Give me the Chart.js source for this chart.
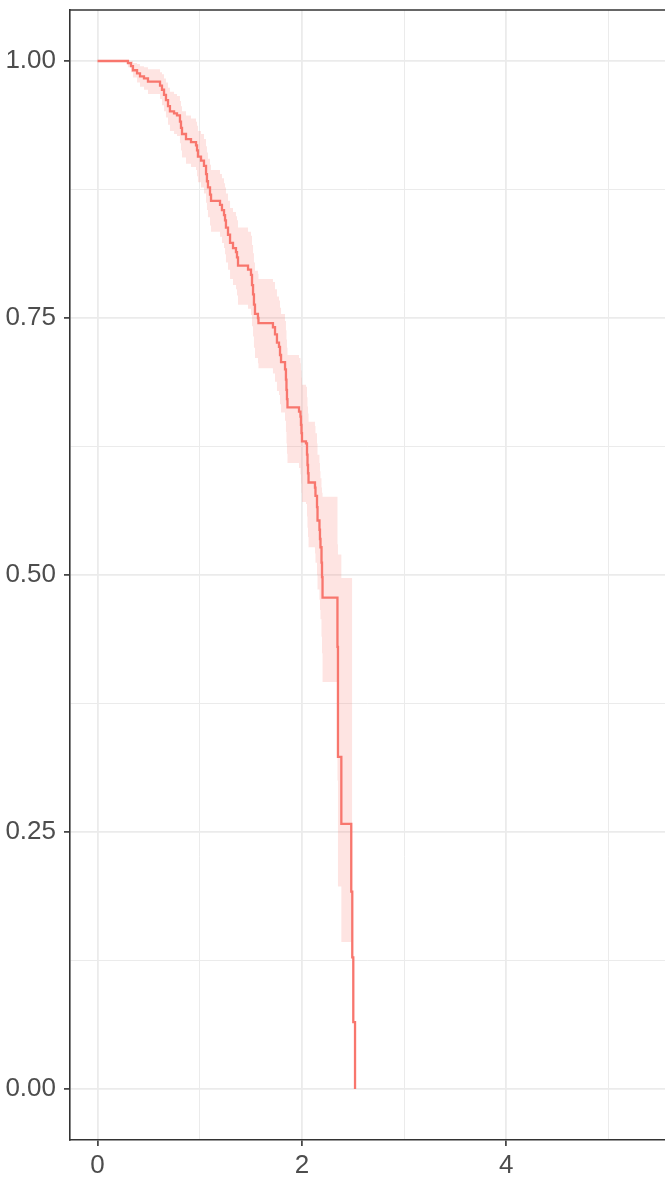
<!DOCTYPE html>
<html>
<head>
<meta charset="utf-8">
<script src="https://cdn.jsdelivr.net/npm/chart.js@4.4.0/dist/chart.umd.min.js"></script>
<style>
  html, body { margin: 0; padding: 0; background: #fff; }
  #wrap { width: 665px; height: 1178px; position: relative; }
</style>
</head>
<body>
<div id="wrap"><canvas id="km"></canvas></div>
<script>
// survival curve (time, S(t), upper / lower CI)
const times = [0, 0.298, 0.328, 0.347, 0.387, 0.416, 0.455, 0.494, 0.612, 0.631,
  0.651, 0.670, 0.690, 0.709, 0.749, 0.778, 0.807, 0.817, 0.827, 0.866,
  0.915, 0.964, 0.974, 0.983, 1.013, 1.042, 1.062, 1.071, 1.081, 1.101,
  1.111, 1.199, 1.218, 1.238, 1.248, 1.257, 1.277, 1.297, 1.326, 1.355,
  1.365, 1.375, 1.473, 1.502, 1.512, 1.522, 1.531, 1.541, 1.570, 1.575,
  1.717, 1.737, 1.756, 1.776, 1.786, 1.796, 1.835, 1.844, 1.849, 1.854,
  1.859, 1.972, 1.986, 1.991, 1.996, 2.001, 2.040, 2.050, 2.055, 2.060,
  2.065, 2.128, 2.133, 2.148, 2.153, 2.172, 2.177, 2.182, 2.192, 2.197,
  2.202, 2.348, 2.353, 2.386, 2.483, 2.493, 2.503, 2.520];

const survival = [1, 0.998, 0.995, 0.991, 0.988, 0.985, 0.983, 0.980, 0.976, 0.972,
  0.967, 0.962, 0.956, 0.951, 0.949, 0.947, 0.941, 0.935, 0.929, 0.924,
  0.921, 0.918, 0.913, 0.907, 0.903, 0.898, 0.890, 0.883, 0.877, 0.870,
  0.864, 0.860, 0.855, 0.850, 0.845, 0.838, 0.831, 0.823, 0.818, 0.814,
  0.809, 0.801, 0.797, 0.792, 0.782, 0.773, 0.763, 0.754, 0.750, 0.745,
  0.741, 0.734, 0.726, 0.722, 0.714, 0.707, 0.700, 0.690, 0.680, 0.671,
  0.663, 0.659, 0.654, 0.646, 0.638, 0.630, 0.628, 0.617, 0.607, 0.599,
  0.590, 0.585, 0.577, 0.566, 0.553, 0.544, 0.535, 0.527, 0.512, 0.498,
  0.478, 0.430, 0.323, 0.258, 0.192, 0.128, 0.065, 0];

const upperCI = [1, 1.000, 1.000, 0.998, 0.997, 0.995, 0.994, 0.992, 0.989, 0.987,
  0.983, 0.979, 0.974, 0.970, 0.968, 0.966, 0.961, 0.956, 0.951, 0.947,
  0.944, 0.941, 0.937, 0.932, 0.929, 0.924, 0.917, 0.911, 0.905, 0.899,
  0.894, 0.890, 0.886, 0.881, 0.877, 0.871, 0.864, 0.857, 0.853, 0.849,
  0.845, 0.838, 0.834, 0.830, 0.821, 0.813, 0.804, 0.796, 0.793, 0.788,
  0.785, 0.778, 0.771, 0.767, 0.760, 0.754, 0.747, 0.738, 0.729, 0.721,
  0.714, 0.711, 0.706, 0.699, 0.692, 0.685, 0.683, 0.673, 0.664, 0.657,
  0.649, 0.645, 0.638, 0.628, 0.617, 0.609, 0.601, 0.594, 0.585, 0.580,
  0.576, 0.530, 0.520, 0.497, 0.497, 0.497, null, null];

const lowerCI = [1, 0.994, 0.989, 0.984, 0.979, 0.975, 0.972, 0.968, 0.963, 0.957,
  0.951, 0.945, 0.938, 0.932, 0.929, 0.927, 0.920, 0.913, 0.906, 0.900,
  0.897, 0.894, 0.888, 0.882, 0.877, 0.871, 0.862, 0.855, 0.848, 0.840,
  0.834, 0.829, 0.823, 0.818, 0.812, 0.804, 0.797, 0.788, 0.782, 0.778,
  0.772, 0.763, 0.759, 0.753, 0.742, 0.732, 0.721, 0.711, 0.706, 0.701,
  0.696, 0.688, 0.679, 0.675, 0.666, 0.658, 0.650, 0.639, 0.628, 0.618,
  0.609, 0.604, 0.598, 0.589, 0.580, 0.571, 0.569, 0.557, 0.546, 0.537,
  0.527, 0.521, 0.512, 0.500, 0.486, 0.476, 0.466, 0.457, 0.440, 0.424,
  0.396, 0.300, 0.197, 0.143, 0.197, 0.197, null, null];

const xTicks = [0, 1, 2, 3, 4, 5];
const yTicks = [0, 0.125, 0.25, 0.375, 0.5, 0.625, 0.75, 0.875, 1];

const lineColor = '#F8766D';
const bandColor = 'rgba(248,118,109,0.2)';

function points(values) {
  return times.map((t, i) => ({ x: t, y: values[i] }));
}

function isMajor(v, step) {
  return Math.abs(v / step - Math.round(v / step)) < 1e-9;
}

const frameTop = {
  id: 'frameTop',
  afterDraw(chart) {
    const { ctx, chartArea } = chart;
    ctx.save();
    ctx.strokeStyle = '#333333';
    ctx.lineWidth = 1.6;
    ctx.beginPath();
    ctx.moveTo(chartArea.left, chartArea.top);
    ctx.lineTo(chartArea.right, chartArea.top);
    ctx.stroke();
    ctx.restore();
  }
};

const tickFont = { family: 'Liberation Sans', size: 26 };

new Chart(document.getElementById('km'), {
  type: 'line',
  data: {
    datasets: [
      {
        data: points(survival),
        borderColor: lineColor,
        borderWidth: 2.3,
        stepped: true,
        pointRadius: 0,
        fill: false
      },
      {
        data: points(upperCI),
        borderWidth: 0,
        borderColor: 'transparent',
        stepped: true,
        pointRadius: 0,
        fill: false
      },
      {
        data: points(lowerCI),
        borderWidth: 0,
        borderColor: 'transparent',
        backgroundColor: bandColor,
        stepped: true,
        pointRadius: 0,
        fill: '-1'
      }
    ]
  },
  options: {
    responsive: true,
    maintainAspectRatio: false,
    animation: false,
    layout: { padding: { top: 10, right: 0, bottom: 0, left: 0 } },
    plugins: { legend: { display: false }, tooltip: { enabled: false } },
    scales: {
      x: {
        type: 'linear',
        min: -0.269,
        max: 5.553,
        afterBuildTicks: s => { s.ticks = xTicks.map(v => ({ value: v })); },
        afterFit: s => { s.height = 38; s.paddingLeft = 0; s.paddingRight = 0; },
        border: { color: '#333333', width: 1.6 },
        grid: {
          color: '#EBEBEB',
          lineWidth: c => isMajor(c.tick.value, 2) ? 1.8 : 1,
          tickColor: c => isMajor(c.tick.value, 2) ? '#333333' : 'rgba(0,0,0,0)',
          tickLength: 6,
          tickWidth: 1.6
        },
        ticks: {
          autoSkip: false,
          maxRotation: 0,
          padding: 4,
          color: '#4D4D4D',
          font: tickFont,
          callback: v => isMajor(v, 2) ? String(v) : ''
        }
      },
      y: {
        type: 'linear',
        min: -0.0496,
        max: 1.0496,
        afterBuildTicks: s => { s.ticks = yTicks.map(v => ({ value: v })); },
        afterFit: s => { s.width = 70; s.paddingTop = 0; s.paddingBottom = 0; },
        border: { color: '#333333', width: 1.6 },
        grid: {
          color: '#EBEBEB',
          lineWidth: c => isMajor(c.tick.value, 0.25) ? 1.8 : 1,
          tickColor: c => isMajor(c.tick.value, 0.25) ? '#333333' : 'rgba(0,0,0,0)',
          tickLength: 6,
          tickWidth: 1.6
        },
        ticks: {
          autoSkip: false,
          padding: 8,
          color: '#4D4D4D',
          font: tickFont,
          callback: v => isMajor(v, 0.25) ? v.toFixed(2) : ''
        }
      }
    }
  },
  plugins: [frameTop]
});
</script>
</body>
</html>
